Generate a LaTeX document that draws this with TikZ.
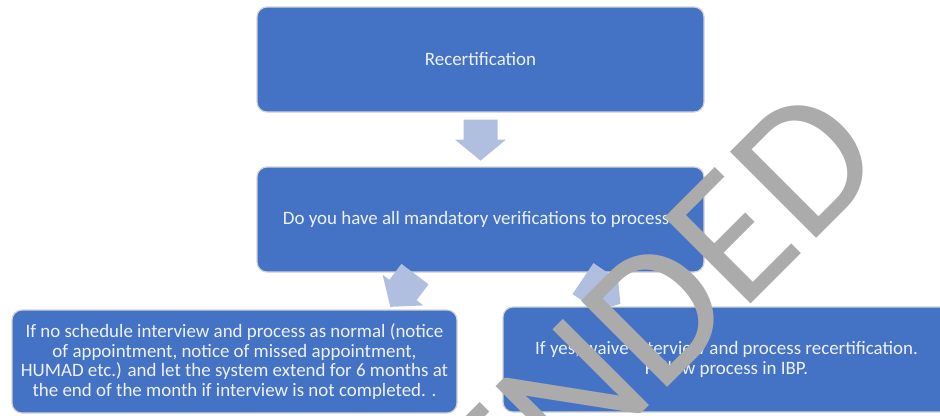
\documentclass[tikz,border=0pt]{standalone}
\usepackage{fontspec}
\setmainfont{Carlito}
\usetikzlibrary{calc}
\definecolor{boxblue}{HTML}{4472C4}
\definecolor{arrowblue}{HTML}{B0BEE0}
\definecolor{wmgray}{HTML}{ABABAB}
\definecolor{txt}{HTML}{EEF2FA}
\tikzset{
  barrow/.pic={\fill[arrowblue] (0,-17) -- (20,-17) -- (20,-25.5) -- (41,0) -- (20,25.5) -- (20,17) -- (0,17) -- cycle;}
}
\begin{document}
\begin{tikzpicture}[x=0.75pt,y=-0.75pt,
  box/.style={draw=gray!35, line width=0.9pt, fill=boxblue, rounded corners=7.5pt,
    text=txt, align=center, font=\fontsize{14.2pt}{14.6pt}\selectfont,
    minimum width=335.25pt, minimum height=78.75pt, inner sep=0pt},
  watermark/.style={font=\fontsize{142.5pt}{142.5pt}\selectfont, text=wmgray,
    rotate=45, anchor=base east, inner sep=0pt}]
\useasboundingbox (0,0) rectangle (940,415);
\clip (0,0) rectangle (940,415);
\node[box] (top) at (480.5,59.5) {Recertification};
\node[box] (q) at (480.5,219.5) {Do you have all mandatory verifications to process?};
\pic[rotate=-90] at ($(top.south)+(0,7)$) {barrow};
\pic[rotate=-127] at ($(q.south)+(-65.5,1.5)$) {barrow};
\pic[rotate=-34, scale=1.1] at ($(q.south)+(102.5,6)$) {barrow};
\node[box, minimum width=333.75pt, minimum height=77.25pt] (no) at (234.5,361.5)
  {If no schedule interview and process as normal (notice\\
   of appointment, notice of missed appointment,\\
   HUMAD etc.) and let the system extend for 6 months at\\
   the end of the month if interview is not completed. .};
\node[box] (yes) at (726.5,359.5)
  {If yes, waive interview and process recertification.\\ Follow process in IBP.};
\node[watermark] (wm) at (890,165) {AMENDED};
\end{tikzpicture}
\end{document}
